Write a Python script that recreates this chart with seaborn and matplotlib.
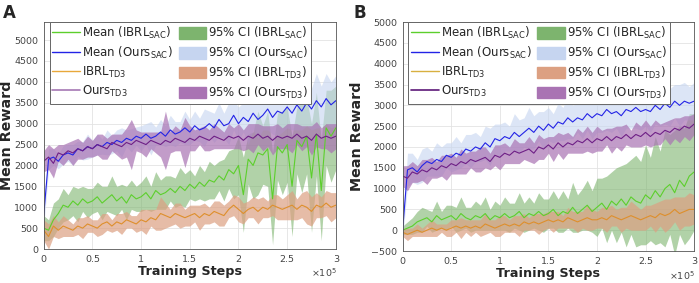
import numpy as np
import pandas as pd
import matplotlib
matplotlib.use("Agg")
import matplotlib.pyplot as plt
from matplotlib.patches import Patch
from matplotlib.lines import Line2D
from matplotlib.ticker import FuncFormatter
import seaborn as sns

# training steps (every 5000 steps)
steps = list(range(0, 300001, 5000))

# ---------------- Panel A ----------------
a_ours_sac = [800, 2150, 2200, 2100, 2250, 2300, 2250, 2400, 2350, 2450,
              2400, 2500, 2450, 2550, 2500, 2600, 2550, 2650, 2600, 2700,
              2650, 2750, 2650, 2700, 2800, 2700, 2850, 2750, 2800, 2900,
              2800, 2950, 2850, 2900, 3000, 2900, 3100, 2950, 3000, 3200,
              3000, 3150, 3050, 3250, 3100, 3200, 3350, 3150, 3300, 3250,
              3400, 3250, 3450, 3300, 3500, 3350, 3550, 3400, 3600, 3450,
              3550]
a_ours_sac_ci = [300, 250, 200, 180, 220, 200, 250, 180, 220, 300,
                 200, 250, 180, 300, 220, 250, 350, 200, 280, 220,
                 300, 250, 400, 220, 300, 250, 350, 300, 250, 400,
                 300, 350, 280, 450, 300, 350, 400, 300, 500, 350,
                 400, 350, 550, 400, 450, 350, 500, 400, 600, 450,
                 500, 400, 600, 450, 550, 500, 650, 500, 600, 550,
                 600]
a_ours_td3 = [2100, 2200, 2050, 2300, 2250, 2350, 2300, 2400, 2350, 2450,
              2400, 2500, 2450, 2400, 2550, 2500, 2450, 2550, 2500, 2600,
              2550, 2500, 2600, 2550, 2500, 2600, 2550, 2650, 2600, 2550,
              2650, 2600, 2700, 2650, 2600, 2700, 2650, 2600, 2700, 2650,
              2700, 2600, 2700, 2650, 2750, 2650, 2700, 2600, 2700, 2650,
              2700, 2650, 2750, 2650, 2700, 2600, 2750, 2650, 2700, 2650,
              2700]
a_ours_td3_ci = [250, 300, 350, 200, 250, 200, 300, 250, 200, 250,
                 200, 250, 300, 250, 200, 250, 300, 350, 600, 250,
                 250, 300, 200, 250, 300, 700, 250, 300, 250, 600,
                 300, 250, 200, 300, 250, 300, 250, 200, 300, 250,
                 300, 250, 300, 350, 250, 300, 250, 350, 300, 250,
                 300, 350, 250, 300, 250, 350, 300, 250, 300, 350,
                 300]
a_ibrl_sac = [500, 450, 700, 850, 1050, 1000, 1150, 1050, 1200, 1100,
              1150, 1250, 1100, 1200, 1300, 1150, 1250, 1100, 1300, 1200,
              1250, 1350, 1200, 1400, 1300, 1350, 1450, 1350, 1500, 1400,
              1550, 1450, 1600, 1500, 1650, 1600, 1750, 1650, 1900, 1800,
              2000, 1300, 2150, 2000, 2300, 2250, 2400, 1200, 2450, 2300,
              2500, 1500, 2600, 2450, 2700, 1700, 2750, 1400, 2900, 2700,
              2900]
a_ibrl_sac_ci = [300, 250, 400, 350, 400, 300, 350, 400, 300, 350,
                 300, 350, 400, 300, 450, 350, 300, 400, 350, 300,
                 350, 400, 300, 450, 350, 400, 300, 350, 450, 400,
                 350, 300, 400, 350, 450, 400, 350, 500, 450, 600,
                 700, 900, 600, 800, 1000, 700, 900, 1100, 800, 1000,
                 900, 1200, 800, 1100, 900, 1300, 1000, 1200, 900, 1100,
                 1000]
a_ibrl_td3 = [450, 300, 550, 450, 550, 500, 450, 550, 500, 600,
              550, 500, 600, 650, 550, 650, 600, 700, 650, 600,
              700, 650, 750, 700, 850, 800, 750, 850, 800, 750,
              800, 850, 750, 850, 800, 900, 850, 800, 950, 1050,
              950, 850, 950, 1000, 900, 1000, 950, 1050, 1000, 950,
              1000, 1050, 950, 1050, 1000, 900, 1050, 1000, 1100, 1000,
              1050]
a_ibrl_td3_ci = [250, 300, 250, 200, 250, 200, 150, 200, 250, 200,
                 150, 200, 250, 200, 150, 200, 250, 200, 150, 200,
                 250, 300, 200, 250, 400, 300, 200, 250, 300, 200,
                 250, 200, 300, 250, 200, 250, 300, 250, 200, 250,
                 300, 250, 200, 250, 300, 250, 200, 250, 300, 250,
                 300, 350, 250, 300, 400, 350, 300, 250, 300, 350,
                 300]

# ---------------- Panel B ----------------
b_ours_sac = [0, 1450, 1500, 1400, 1550, 1650, 1600, 1700, 1650, 1800,
              1750, 1850, 1800, 1950, 1900, 2000, 1950, 2100, 2000, 2200,
              2150, 2250, 2200, 2350, 2250, 2350, 2450, 2350, 2500, 2400,
              2550, 2450, 2600, 2550, 2700, 2600, 2700, 2650, 2800, 2700,
              2800, 2750, 2900, 2800, 2850, 2750, 2900, 2850, 2950, 2850,
              2900, 2850, 3000, 2900, 3050, 2950, 3100, 3000, 3100, 3050,
              3100]
b_ours_sac_ci = [200, 400, 350, 300, 400, 350, 300, 400, 350, 300,
                 350, 400, 300, 350, 400, 350, 300, 400, 450, 350,
                 400, 350, 300, 450, 400, 350, 500, 400, 350, 450,
                 400, 350, 450, 400, 500, 400, 350, 450, 400, 500,
                 450, 400, 500, 450, 400, 500, 450, 400, 500, 450,
                 400, 500, 450, 400, 500, 450, 400, 500, 450, 400,
                 450]
b_ours_td3 = [1300, 1250, 1400, 1350, 1450, 1400, 1500, 1450, 1550, 1500,
              1600, 1550, 1650, 1600, 1700, 1650, 1700, 1750, 1650, 1800,
              1750, 1850, 1800, 1900, 1850, 1900, 1950, 1850, 2000, 1950,
              2050, 1950, 2100, 2000, 2100, 2050, 2150, 2100, 2200, 2100,
              2200, 2150, 2250, 2150, 2250, 2200, 2300, 2200, 2300, 2250,
              2350, 2250, 2350, 2300, 2400, 2350, 2450, 2400, 2500, 2450,
              2550]
b_ours_td3_ci = [250, 300, 250, 200, 250, 300, 250, 200, 250, 300,
                 250, 200, 300, 250, 200, 250, 300, 250, 200, 250,
                 300, 250, 200, 300, 250, 200, 300, 250, 300, 250,
                 200, 300, 250, 300, 250, 200, 300, 250, 300, 250,
                 300, 250, 200, 300, 250, 300, 250, 200, 300, 250,
                 300, 250, 300, 250, 200, 300, 250, 300, 250, 300,
                 250]
b_ibrl_sac = [0, 50, 100, 200, 250, 300, 200, 350, 250, 300,
              350, 250, 400, 300, 250, 350, 300, 400, 250, 350,
              300, 400, 300, 350, 450, 300, 400, 350, 450, 350,
              400, 500, 350, 450, 400, 550, 400, 500, 600, 450,
              550, 650, 500, 700, 600, 750, 600, 800, 700, 650,
              850, 750, 950, 800, 1000, 1100, 900, 1200, 1050, 1300,
              1400]
b_ibrl_sac_ci = [100, 150, 200, 250, 300, 200, 250, 350, 200, 300,
                 250, 300, 400, 250, 300, 350, 300, 400, 250, 350,
                 300, 400, 350, 300, 450, 350, 400, 300, 450, 400,
                 350, 450, 400, 500, 350, 600, 450, 500, 600, 500,
                 700, 600, 800, 700, 900, 800, 1000, 900, 1100, 1000,
                 1200, 1000, 1300, 1100, 1400, 1200, 1500, 1300, 1400, 1500,
                 1400]
b_ibrl_td3 = [-50, -100, -50, 0, -50, 0, 50, 0, 50, 0,
              50, 100, 50, 100, 50, 100, 50, 150, 100, 50,
              100, 150, 100, 150, 100, 200, 150, 200, 150, 200,
              250, 200, 250, 200, 300, 250, 200, 250, 300, 250,
              250, 300, 250, 350, 300, 250, 300, 350, 300, 250,
              300, 350, 300, 400, 350, 400, 500, 400, 450, 500,
              500]
b_ibrl_td3_ci = [100, 150, 100, 150, 100, 150, 200, 150, 100, 150,
                 200, 150, 250, 150, 200, 150, 200, 250, 150, 200,
                 250, 200, 150, 200, 250, 200, 150, 200, 250, 200,
                 200, 250, 200, 150, 250, 200, 250, 200, 300, 250,
                 200, 250, 300, 250, 200, 300, 250, 350, 300, 250,
                 300, 250, 350, 300, 400, 350, 300, 400, 350, 400,
                 350]

line_colors = {"ibrl_sac": "#5ccf2c", "ours_sac": "#2323e6",
               "ibrl_td3": "#de8f2c", "ours_td3": "#6e1f86"}
ci_colors = {"ibrl_sac": "#7db46e", "ours_sac": "#c6d5f0",
             "ibrl_td3": "#dca082", "ours_td3": "#a973b3"}
ci_alpha = {"ibrl_sac": 0.6, "ours_sac": 0.6, "ibrl_td3": 0.7, "ours_td3": 0.7}

sns.set_theme(style="whitegrid")
plt.rcParams["font.family"] = ["DejaVu Sans"]

fig = plt.figure(figsize=(6.99, 2.83), dpi=100)
axA = fig.add_axes([0.0625, 0.120, 0.418, 0.802])
axB = fig.add_axes([0.576, 0.113, 0.417, 0.809])

panels = [
    (axA, {"ibrl_sac": (a_ibrl_sac, a_ibrl_sac_ci), "ours_sac": (a_ours_sac, a_ours_sac_ci),
           "ibrl_td3": (a_ibrl_td3, a_ibrl_td3_ci), "ours_td3": (a_ours_td3, a_ours_td3_ci)},
     (0, 5430), range(0, 5001, 500), "A", 0.004, -0.100, "#a678b4", "#e8a83a"),
    (axB, {"ibrl_sac": (b_ibrl_sac, b_ibrl_sac_ci), "ours_sac": (b_ours_sac, b_ours_sac_ci),
           "ibrl_td3": (b_ibrl_td3, b_ibrl_td3_ci), "ours_td3": (b_ours_td3, b_ours_td3_ci)},
     (-500, 5000), range(-500, 5001, 500), "B", 0.506, -0.132, "#5c1878", "#d8b040"),
]

order = ["ibrl_sac", "ours_sac", "ibrl_td3", "ours_td3"]
for ax, data, ylim, yticks, tag, tag_x, ylab_x, leg_purple, leg_orange in panels:
    x = np.array(steps)
    for key in order:
        m, ci = np.array(data[key][0]), np.array(data[key][1])
        ax.fill_between(x, m - ci, m + ci, color=ci_colors[key], alpha=ci_alpha[key], linewidth=0)
    for key in order:
        sns.lineplot(x=x, y=data[key][0], ax=ax, color=line_colors[key], linewidth=0.8)

    ax.set_xlim(0, 300000)
    ax.set_ylim(*ylim)
    ax.set_xticks(range(0, 300001, 50000))
    ax.set_yticks(list(yticks))
    ax.xaxis.set_major_formatter(FuncFormatter(lambda v, p: f"{v / 1e5:g}"))
    ax.tick_params(labelsize=6.8, colors="#444444", length=2, pad=2)
    ax.grid(True, color="#e3e3e3", linewidth=0.6)
    for s in ax.spines.values():
        s.set_color("#555555")
        s.set_linewidth(0.6)
    ax.set_xlabel("Training Steps", fontsize=9.2, fontweight="bold", color="#262626", labelpad=1)
    ax.set_ylabel("Mean Reward", fontsize=10.3, fontweight="bold", color="#262626")
    ax.yaxis.set_label_coords(ylab_x, 0.5)
    ax.text(1.003, -0.106, r"$\times10^5$", transform=ax.transAxes, fontsize=6.8,
            color="#444444", ha="right", va="center")
    fig.text(tag_x, 0.985, tag, fontsize=12, fontweight="bold", ha="left", va="top")

    handles = [
        Line2D([], [], color="#5ccf2c", lw=1),
        Line2D([], [], color="#2323e6", lw=1),
        Line2D([], [], color=leg_orange, lw=1),
        Line2D([], [], color=leg_purple, lw=1.2),
        Patch(color=ci_colors["ibrl_sac"]),
        Patch(color=ci_colors["ours_sac"]),
        Patch(color=ci_colors["ibrl_td3"]),
        Patch(color=ci_colors["ours_td3"]),
    ]
    labels = [r"Mean (IBRL$_{\mathrm{SAC}}$)", r"Mean (Ours$_{\mathrm{SAC}}$)",
              r"IBRL$_{\mathrm{TD3}}$", r"Ours$_{\mathrm{TD3}}$",
              r"95% CI (IBRL$_{\mathrm{SAC}}$)", r"95% CI (Ours$_{\mathrm{SAC}}$)",
              r"95% CI (IBRL$_{\mathrm{TD3}}$)", r"95% CI (Ours$_{\mathrm{TD3}}$)"]
    leg = ax.legend(handles, labels, ncol=2, loc="upper left", bbox_to_anchor=(0.02, 1.0),
                    fontsize=8.5, frameon=True, fancybox=False, edgecolor="#666666",
                    framealpha=1, borderpad=0.25, labelspacing=0.32, handlelength=2.3,
                    handleheight=1.1, handletextpad=0.2, columnspacing=0.5, borderaxespad=0.0)
    leg.get_frame().set_linewidth(0.7)

fig.savefig("out.png", dpi=100)
